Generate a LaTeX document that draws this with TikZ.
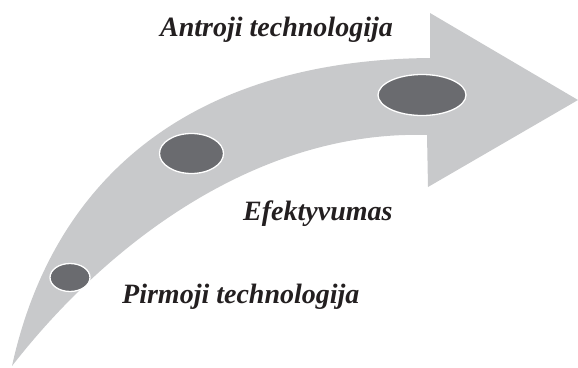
\documentclass[tikz,border=0pt]{standalone}
\usepackage{fontspec}
\setmainfont{Liberation Serif}
\usetikzlibrary{shapes.geometric}
\definecolor{arrowgray}{HTML}{C8C9CB}
\definecolor{dotgray}{HTML}{6A6B6F}
\definecolor{txt}{HTML}{231F20}
\tikzset{
  dot/.style={ellipse, draw=white, line width=1.3pt, fill=dotgray, inner sep=0pt},
  label/.style={anchor=base west, inner sep=0pt, text=txt, font=\fontsize{28}{30}\selectfont\bfseries\itshape}
}
\begin{document}
\begin{tikzpicture}[x=1pt,y=-1pt]
\useasboundingbox (0,0) rectangle (578,367);
\fill[arrowgray] (12,366) .. controls (55,170) and (200,60) .. (430,58)
  -- (430,13) -- (578,100) -- (428,187) -- (427,135)
  .. controls (260,130) and (110,240) .. (12,366) -- cycle;
\node[dot, minimum width=40pt, minimum height=28pt] (d1) at (70,277.5) {};
\node[dot, minimum width=64pt, minimum height=40pt] (d2) at (191.5,153.5) {};
\node[dot, minimum width=88pt, minimum height=41pt] (d3) at (422,95) {};
\node[label] (t1) at (160,36) {Antroji technologija};
\node[label] (t2) at (243,220.5) {Efektyvumas};
\node[label] (t3) at (122,303) {Pirmoji technologija};
\end{tikzpicture}
\end{document}
